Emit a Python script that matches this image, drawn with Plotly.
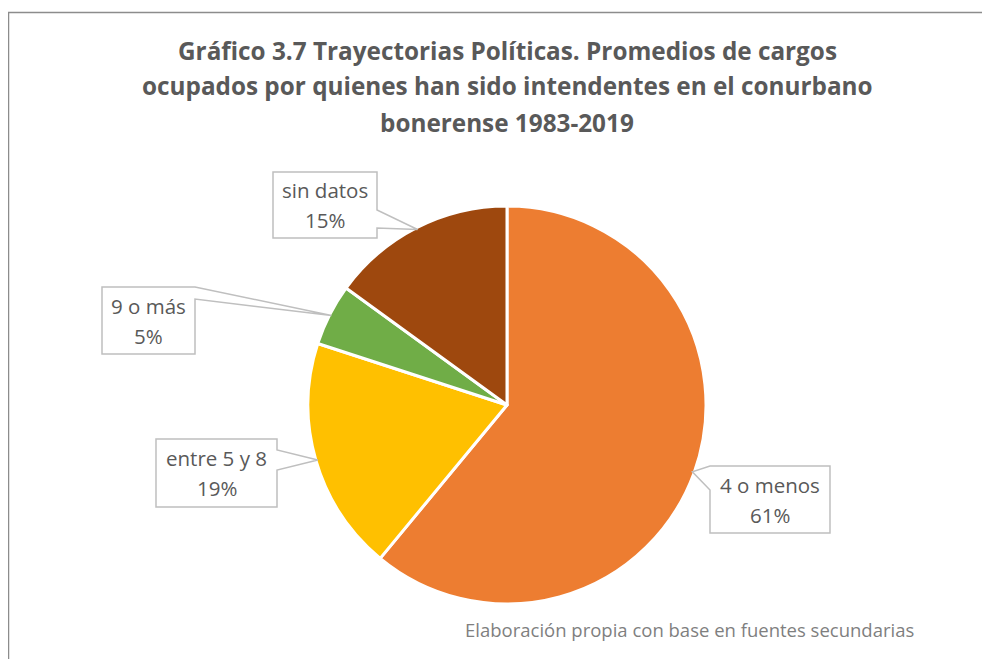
import math
import plotly.graph_objects as go

# data
labels = ["4 o menos", "entre 5 y 8", "9 o más", "sin datos"]
values = [61, 19, 5, 15]
colors = ["#ED7D31", "#FFC000", "#70AD47", "#9E480E"]

title_lines = [
    "Gráfico 3.7 Trayectorias Políticas. Promedios de cargos",
    "ocupados por quienes han sido intendentes en el conurbano",
    "bonerense 1983-2019",
]
source_note = "Elaboración propia con base en fuentes secundarias"

W, H = 990, 659
OFF = 8  # page body margin of the html page
cx, cy, r = 507, 405, 197  # pie centre / radius in screen pixels


def px(x):
    return (x - OFF) / W


def py(y):
    return 1 - (y - OFF) / H


# label boxes (pixels): x0, y0, x1, y1, side of pointer, pointer base y0, y1
callouts = [
    (710, 466, 830, 533, "left", 466, 490),
    (156, 439, 277, 507, "right", 450, 470),
    (102, 287, 195, 354, "right", 287, 299),
    (273, 172, 377, 238, "right", 210, 228),
]

# plotly draws the pie a touch inside its domain, so pad it a little
rd = r + 2
fig = go.Figure(go.Pie(
    labels=labels, values=values, sort=False, direction="clockwise", rotation=0,
    marker=dict(colors=colors, line=dict(color="white", width=3)),
    textinfo="none", hoverinfo="label+percent", showlegend=False,
    domain=dict(x=[px(cx - rd), px(cx + rd)], y=[py(cy + rd), py(cy - rd)]),
))

shapes = [dict(type="rect", xref="paper", yref="paper",
               x0=px(8.5), y0=py(12.5), x1=px(1010), y1=py(690),
               line=dict(color="#8c8c8c", width=1.5), layer="below")]
annotations = []

total = sum(values)
cum = 0
for lab, val, box in zip(labels, values, callouts):
    ang = 2 * math.pi * (cum + val / 2) / total
    cum += val
    tx, ty = cx + r * math.sin(ang), cy - r * math.cos(ang)
    x0, y0, x1, y1, side, b0, b1 = box
    if side == "right":
        pts = [(x0, y0), (x1, y0), (x1, b0), (tx, ty), (x1, b1), (x1, y1), (x0, y1)]
    else:
        pts = [(x0, y0), (x1, y0), (x1, y1), (x0, y1), (x0, b1), (tx, ty), (x0, b0)]
    path = "M " + " L ".join(f"{px(a):.5f},{py(b):.5f}" for a, b in pts) + " Z"
    shapes.append(dict(type="path", xref="paper", yref="paper", path=path,
                       fillcolor="white", line=dict(color="#BFBFBF", width=1.5)))
    ym = (y0 + y1) / 2
    for txt, yy in [(lab, ym - 15), (f"{round(100 * val / total)}%", ym + 15)]:
        annotations.append(dict(
            x=px((x0 + x1) / 2), y=py(yy), xref="paper", yref="paper",
            text=txt, showarrow=False, xanchor="center", yanchor="middle",
            font=dict(family="Open Sans", size=20.5, color="#595959"),
        ))

for i, line in enumerate(title_lines):
    annotations.append(dict(
        x=px(507), y=py(50 + 36 * i), xref="paper", yref="paper", text=f"<b>{line}</b>",
        showarrow=False, xanchor="center", yanchor="middle",
        font=dict(family="Open Sans", size=24.3, color="#595959"),
    ))

annotations.append(dict(
    x=px(916), y=py(629), xref="paper", yref="paper", text=source_note,
    showarrow=False, xanchor="right", yanchor="middle",
    font=dict(family="Open Sans", size=18.5, color="#7f7f7f"),
))

fig.update_layout(
    width=W, height=H, margin=dict(l=0, r=0, t=0, b=0),
    paper_bgcolor="white", plot_bgcolor="white",
    shapes=shapes, annotations=annotations,
)

fig.write_html("out.html")
